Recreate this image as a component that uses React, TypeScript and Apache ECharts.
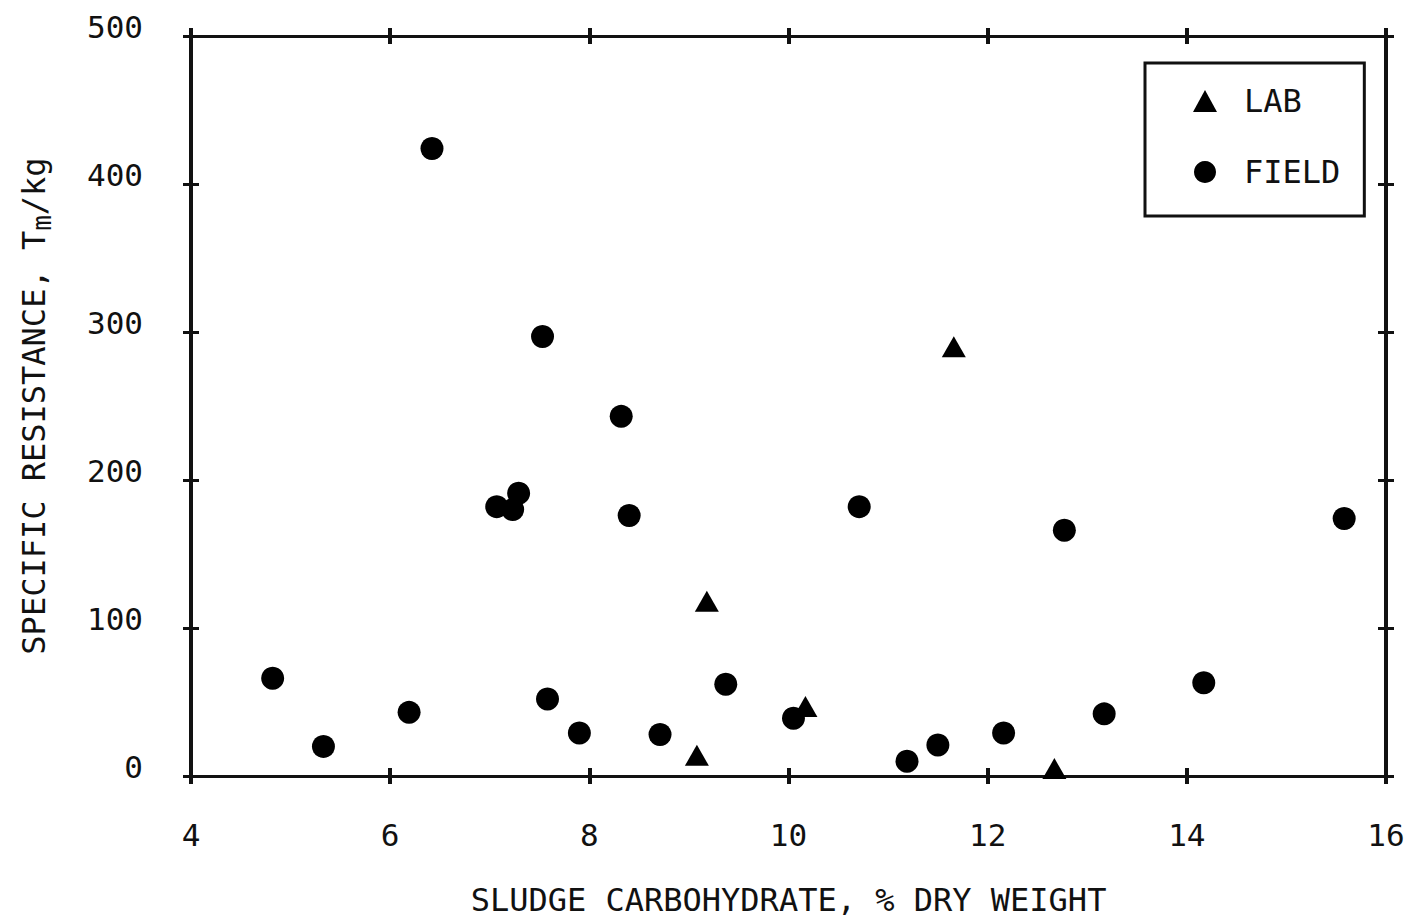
import React, { useEffect, useRef } from "react";
import * as echarts from "echarts";

const xTicks = [4, 16, 2];
const yTicks = [0, 500, 100];

const labX = [9.08, 9.18, 10.17, 11.66, 12.67];
const labY = [14, 118, 47, 290, 5];

const fieldX = [4.82, 5.33, 6.19, 6.42, 7.07, 7.23, 7.29, 7.53, 7.58, 7.9, 8.32, 8.4, 8.71, 9.37, 10.05, 10.71, 11.19, 11.5, 12.16, 12.77, 13.17, 14.17, 15.58];
const fieldY = [66, 20, 43, 424, 182, 180, 191, 297, 52, 29, 243, 176, 28, 62, 39, 182, 10, 21, 29, 166, 42, 63, 174];

const xTitle = "SLUDGE CARBOHYDRATE, % DRY WEIGHT";
const yTitleMain = "SPECIFIC RESISTANCE, T";
const yTitleSub = "m";
const yTitleEnd = "/kg";

const FONT = "DejaVu Sans Mono";
const INK = "#111";

export default function App() {
  const ref = useRef<HTMLDivElement>(null);
  useEffect(() => {
    if (!ref.current) return;
    const chart = echarts.init(ref.current, null, { renderer: "svg" });
    const gridRect = { left: 191, top: 36, right: 30, bottom: 145 };
    const mkX = (grid: number, pos: "bottom" | "top", labels: boolean, inside: boolean, lw: number, extra: any = {}) => ({
      type: "value",
      gridIndex: grid,
      position: pos,
      min: xTicks[0],
      max: xTicks[1],
      interval: xTicks[2],
      axisLine: { show: true, onZero: false, lineStyle: { color: INK, width: lw } },
      axisTick: { show: true, inside, length: 8, lineStyle: { color: INK, width: 4 } },
      axisLabel: labels
        ? { show: true, margin: 43, fontFamily: FONT, fontSize: 31, color: INK }
        : { show: false },
      splitLine: { show: false },
      ...extra,
    });
    const mkY = (grid: number, pos: "left" | "right", labels: boolean, inside: boolean, lw: number, extra: any = {}) => ({
      type: "value",
      gridIndex: grid,
      position: pos,
      min: yTicks[0],
      max: yTicks[1],
      interval: yTicks[2],
      axisLine: { show: true, onZero: false, lineStyle: { color: INK, width: lw } },
      axisTick: { show: true, inside, length: 8, lineStyle: { color: INK, width: 3 } },
      axisLabel: labels
        ? { show: true, margin: 48, fontFamily: FONT, fontSize: 31, color: INK, verticalAlign: "bottom", lineHeight: 18 }
        : { show: false },
      splitLine: { show: false },
      ...extra,
    });
    chart.setOption({
      animation: false,
      backgroundColor: "#fff",
      grid: [
        { ...gridRect },
        { ...gridRect },
      ],
      xAxis: [
        mkX(0, "bottom", true, false, 3, {
          name: xTitle,
          nameLocation: "middle",
          nameGap: 108,
          nameTextStyle: { fontFamily: FONT, fontSize: 32, color: INK },
        }),
        mkX(0, "top", false, false, 3),
        mkX(1, "bottom", false, true, 3),
        mkX(1, "top", false, true, 3),
      ],
      yAxis: [
        mkY(0, "left", true, false, 4, {
          name: "{a|" + yTitleMain + "}{sub|" + yTitleSub + "}{a|" + yTitleEnd + "}",
          nameLocation: "middle",
          nameGap: 136,
          nameRotate: 90,
          nameTextStyle: {
            fontFamily: FONT,
            fontSize: 32,
            color: INK,
            rich: {
              a: { fontFamily: FONT, fontSize: 32, color: INK },
              sub: { fontFamily: FONT, fontSize: 26, color: INK, padding: [16, 0, 0, 0] },
            },
          },
        }),
        mkY(0, "right", false, false, 4),
        mkY(1, "left", false, true, 4),
        mkY(1, "right", false, true, 4),
      ],
      legend: {
        orient: "vertical",
        left: 1145,
        top: 63,
        width: 219,
        borderColor: INK,
        borderWidth: 3,
        borderRadius: 0,
        padding: [22, 24, 28, 48],
        itemGap: 39,
        itemWidth: 24,
        itemHeight: 22,
        textStyle: { fontFamily: FONT, fontSize: 32, color: INK, lineHeight: 32, padding: [0, 0, 0, 22] },
        data: ["LAB", "FIELD"],
      },
      series: [
        {
          name: "LAB",
          type: "scatter",
          xAxisIndex: 0,
          yAxisIndex: 0,
          symbol: "triangle",
          symbolSize: [24, 21],
          itemStyle: { color: "#000", opacity: 1 },
          data: labX.map((x, i) => [x, labY[i]]),
        },
        {
          name: "FIELD",
          type: "scatter",
          xAxisIndex: 0,
          yAxisIndex: 0,
          symbol: "circle",
          symbolSize: 23,
          itemStyle: { color: "#000", opacity: 1 },
          data: fieldX.map((x, i) => [x, fieldY[i]]),
        },
      ],
    });
    return () => chart.dispose();
  }, []);
  return (
    <div
      ref={ref}
      style={{ position: "fixed", left: 0, top: 0, width: 1416, height: 921, background: "#fff" }}
    />
  );
}
